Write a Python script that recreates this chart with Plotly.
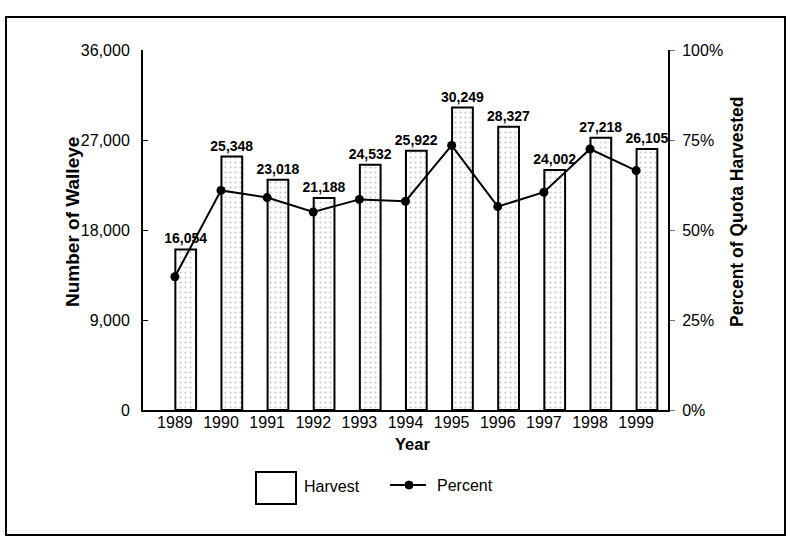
import plotly.graph_objects as go

years = ["1989", "1990", "1991", "1992", "1993", "1994", "1995", "1996", "1997", "1998", "1999"]
harvest = [16054, 25348, 23018, 21188, 24532, 25922, 30249, 28327, 24002, 27218, 26105]
percent = [37, 61, 59, 55, 58.5, 58, 73.5, 56.5, 60.5, 72.5, 66.5]
harvest_labels = [f"{v:,}" for v in harvest]
left_ticks = [0, 9000, 18000, 27000, 36000]
left_tick_text = ["0", "9,000", "18,000", "27,000", "36,000"]
right_ticks = [0, 25, 50, 75, 100]
right_tick_text = ["0%", "25%", "50%", "75%", "100%"]

FONT = "Liberation Sans, Arial, sans-serif"
W, H = 791, 538
L, R, T, B = 143, 668, 50, 410


def px(x):
    return (x - L) / (R - L)


def py(y):
    return (B - y) / (B - T)


fig = go.Figure()
fig.add_trace(go.Bar(
    x=years, y=harvest, name="Harvest",
    width=0.45, offset=0.01,
    marker=dict(color="white", line=dict(color="black", width=2),
                pattern=dict(shape=".", fgcolor="#8a8a8a", bgcolor="white", size=5, solidity=0.15)),
    text=harvest_labels, textposition="outside", cliponaxis=False, constraintext="none",
    textfont=dict(family=FONT, size=14, color="black", weight="bold"),
    showlegend=False,
))
fig.add_trace(go.Scatter(
    x=years, y=percent, name="Percent", yaxis="y2",
    mode="lines+markers",
    line=dict(color="black", width=2),
    marker=dict(color="black", size=9),
    showlegend=False,
))

shapes = [
    # outer frame
    dict(type="rect", xref="paper", yref="paper",
         x0=px(6), x1=px(785), y0=py(535), y1=py(17),
         line=dict(color="black", width=2), fillcolor="rgba(0,0,0,0)"),
    # legend: harvest box
    dict(type="rect", xref="paper", yref="paper",
         x0=px(256), x1=px(296), y0=py(504), y1=py(472),
         line=dict(color="black", width=2), fillcolor="white"),
    # legend: percent line
    dict(type="line", xref="paper", yref="paper",
         x0=px(390), x1=px(426), y0=py(485), y1=py(485),
         line=dict(color="black", width=2)),
    dict(type="circle", xref="paper", yref="paper",
         x0=px(405), x1=px(413), y0=py(489), y1=py(481),
         line=dict(color="black", width=1), fillcolor="black"),
]

annotations = [
    dict(text="Harvest", xref="paper", yref="paper", x=px(302), y=py(487),
         xanchor="left", yanchor="middle", showarrow=False,
         font=dict(family=FONT, size=16, color="black")),
    dict(text="Percent", xref="paper", yref="paper", x=px(435), y=py(485),
         xanchor="left", yanchor="middle", showarrow=False,
         font=dict(family=FONT, size=16, color="black")),
    dict(text="<b>Number of Walleye</b>", xref="paper", yref="paper", x=px(72), y=py(222),
         xanchor="center", yanchor="middle", textangle=-90, showarrow=False,
         font=dict(family=FONT, size=19, color="black")),
    dict(text="<b>Percent of Quota Harvested</b>", xref="paper", yref="paper", x=px(737), y=py(212),
         xanchor="center", yanchor="middle", textangle=-90, showarrow=False,
         font=dict(family=FONT, size=17.5, color="black")),
    dict(text="<b>Year</b>", xref="paper", yref="paper", x=px(412), y=py(444),
         xanchor="center", yanchor="middle", showarrow=False,
         font=dict(family=FONT, size=16.5, color="black")),
]

fig.update_layout(
    width=W, height=H,
    margin=dict(l=L, r=W - R, t=T, b=H - B),
    paper_bgcolor="white", plot_bgcolor="white",
    font=dict(family=FONT, size=16, color="black"),
    showlegend=False,
    xaxis=dict(
        type="category", showline=True, linecolor="black", linewidth=2,
        ticks="", tickfont=dict(family=FONT, size=16), showgrid=False,
        ticklabelstandoff=-3,
    ),
    yaxis=dict(
        range=[0, 36000], tickvals=left_ticks, ticktext=left_tick_text,
        showline=True, linecolor="black", linewidth=2, showgrid=False,
        ticks="inside", ticklen=5, tickcolor="black", ticklabelstandoff=8,
        tickfont=dict(family=FONT, size=16), zeroline=False,
    ),
    yaxis2=dict(
        range=[0, 100], tickvals=right_ticks, ticktext=right_tick_text,
        overlaying="y", side="right",
        showline=True, linecolor="black", linewidth=2, showgrid=False,
        ticks="outside", ticklen=5, tickcolor="#777", ticklabelstandoff=4,
        tickfont=dict(family=FONT, size=16), zeroline=False,
    ),
    shapes=shapes,
    annotations=annotations,
)

fig.write_html("out.html", config={"displayModeBar": False},
               post_script="document.body.style.margin='0px';")
